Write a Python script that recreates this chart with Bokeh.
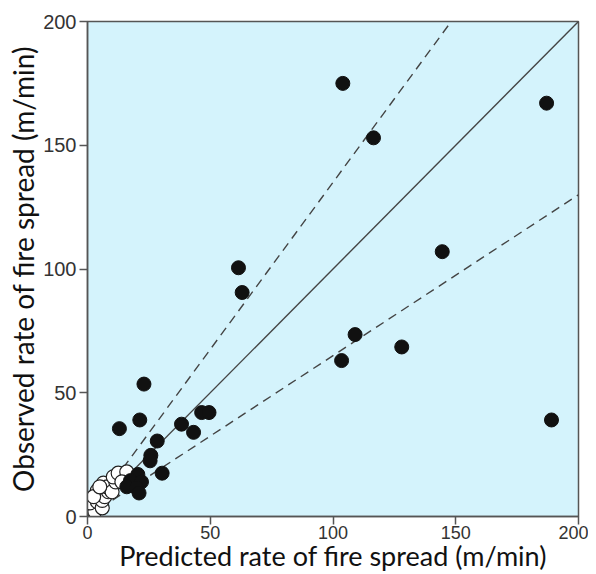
from bokeh.plotting import figure
from bokeh.embed import file_html
from bokeh.resources import INLINE
from bokeh.models import FixedTicker, Range1d

# Filled (black) observations
filled_pred = [104, 116.5, 187, 144.5, 189, 61.5, 63, 109, 128, 103.5,
               23, 21.3, 13, 38.3, 43.2, 46.5, 49.5, 28.4, 25.8, 25.5,
               30.4, 20.5, 17.5, 22, 16, 20, 21]
filled_obs = [175, 153, 167, 107, 39, 100.5, 90.5, 73.5, 68.5, 63,
              53.5, 39, 35.5, 37.3, 34, 42, 42, 30.5, 24.7, 22.5,
              17.5, 17, 14.5, 14, 12, 11.5, 9.5]

# Open (white) observations
open_pred = [0.5, 1.5, 3, 1, 4, 6, 6, 4, 7, 8.5, 6.5, 8, 10, 11.5, 10.5, 12.5, 16, 14, 2.5, 5]
open_obs = [1, 3, 2, 5.5, 6, 3.5, 6.5, 10.5, 8, 10, 13.5, 12, 10, 14, 16, 17.5, 18, 14, 8, 12]

# Reference lines: 1:1 and +/-35%
ref_slopes = [1.0, 1.35, 0.65]
ref_dash = ["solid", "9 6", "9 6"]

ticks = [0, 50, 100, 150, 200]
axis_max = 200

p = figure(width=588, height=574, output_backend="svg", toolbar_location=None,
           x_range=Range1d(0, axis_max), y_range=Range1d(0, axis_max),
           min_border_left=87, min_border_right=10, min_border_top=21, min_border_bottom=58)

p.background_fill_color = "#d4f3fc"
p.border_fill_color = "white"
p.outline_line_color = "#555555"
p.outline_line_width = 1.5
p.grid.visible = False

for s, d in zip(ref_slopes, ref_dash):
    xe = min(axis_max, axis_max / s)
    p.line([0, xe], [0, xe * s], line_color="#444444", line_width=1.4, line_dash=d)

p.scatter(open_pred, open_obs, size=14, fill_color="white", line_color="#222222", line_width=1.2)
p.scatter(filled_pred, filled_obs, size=14, fill_color="#111111", line_color="#111111")

for ax in (p.xaxis[0], p.yaxis[0]):
    ax.ticker = FixedTicker(ticks=ticks)
    ax.minor_tick_line_color = None
    ax.major_tick_in = 0
    ax.major_tick_out = 8
    ax.major_tick_line_color = "#555555"
    ax.major_tick_line_width = 1.5
    ax.axis_line_color = "#555555"
    ax.axis_line_width = 1.5
    ax.major_label_text_font = "Liberation Sans"
    ax.major_label_text_color = "#333333"
    ax.axis_label_text_font = "Lato"
    ax.axis_label_text_font_style = "normal"
    ax.axis_label_text_color = "#111111"

p.xaxis.major_label_text_font_size = "18px"
p.yaxis.major_label_text_font_size = "20px"
p.xaxis.axis_label_text_font_size = "27px"
p.yaxis.axis_label_text_font_size = "28px"
p.xaxis.axis_label = "Predicted rate of fire spread (m/min)"
p.yaxis.axis_label = "Observed rate of fire spread (m/min)"
p.xaxis.major_label_standoff = 1
p.xaxis.axis_label_standoff = -3
p.yaxis.major_label_standoff = 3
p.yaxis.axis_label_standoff = 0

open("out.html", "w").write(file_html(p, INLINE))
